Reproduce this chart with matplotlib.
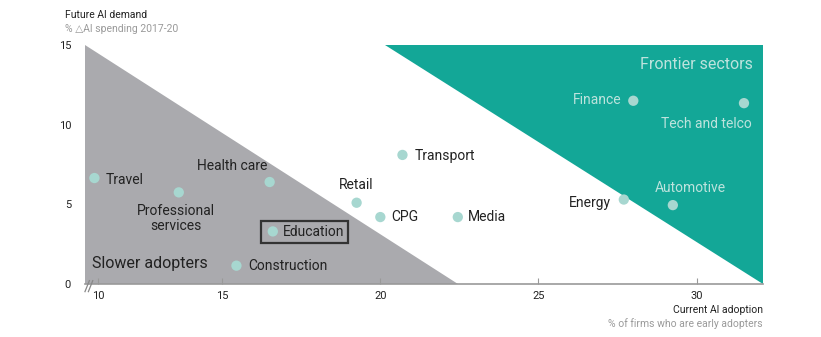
import numpy as np
import matplotlib.pyplot as plt
from matplotlib.patches import Polygon, Rectangle
from matplotlib.transforms import IdentityTransform

plt.rcParams['font.family'] = ['Roboto', 'DejaVu Sans']

# sector positions: current AI adoption (x) vs future AI demand (y)
sectors = ['Travel', 'Professional\nservices', 'Health care', 'Education', 'Construction',
           'Retail', 'CPG', 'Transport', 'Media', 'Finance', 'Tech and telco',
           'Energy', 'Automotive']
adoption = [9.85, 13.25, 16.5, 16.6, 15.45, 19.25, 20.0, 20.7, 22.45, 28.0, 31.5, 27.7, 29.25]
demand = [6.65, 5.75, 6.4, 3.3, 1.15, 5.1, 4.2, 8.1, 4.2, 11.5, 11.35, 5.3, 4.95]

xticks = [10, 15, 20, 25, 30]
yticks = [0, 5, 10, 15]

# region boundaries
slow_zone = [(9.47, 15), (9.47, 0), (22.45, 0)]
frontier_zone = [(20.15, 15), (32.1, 15), (32.1, 0)]

GREY = '#AAAAAE'
TEAL = '#13A797'
DOT = '#A7D7D0'
PALE = '#BDE3DD'
INK = '#222222'

# label placement (offset pixels, alignment, colour)
placement = {
    'Travel': ((11, -2), 'left', INK),
    'Professional\nservices': ((-3, -26), 'center', INK),
    'Health care': ((-37, 16), 'center', INK),
    'Education': ((10, -1), 'left', INK),
    'Construction': ((12, 0), 'left', INK),
    'Retail': ((0, 18), 'center', INK),
    'CPG': ((11, 0), 'left', INK),
    'Transport': ((12, -1), 'left', INK),
    'Media': ((10, 0), 'left', INK),
    'Finance': ((-12, 1), 'right', PALE),
    'Tech and telco': ((8, -21), 'right', PALE),
    'Energy': ((-13, -3), 'right', INK),
    'Automotive': ((17, 17), 'center', PALE),
}

# left part of the x axis is compressed (axis break before 10)
K = 124 / 158


def fwd(x):
    x = np.asarray(x, dtype=float)
    return np.where(x >= 15, x, 15 - (15 - x) * K)


def inv(t):
    t = np.asarray(t, dtype=float)
    return np.where(t >= 15, t, 15 - (15 - t) / K)


fig = plt.figure(figsize=(8.21, 3.37), dpi=100)
ax = fig.add_axes([0.1035, 0.1573, 0.8258, 0.7092])
ax.set_xscale('function', functions=(fwd, inv))
ax.set_xlim(9.47, 32.1)
ax.set_ylim(0, 15)

ax.add_patch(Polygon(slow_zone, closed=True, fc=GREY, ec='none', zorder=0))
ax.add_patch(Polygon(frontier_zone, closed=True, fc=TEAL, ec='none', zorder=0))

ax.scatter(adoption, demand, s=55, color=DOT, edgecolors='none', zorder=3)

labels = {}
for name, x, y in zip(sectors, adoption, demand):
    off, ha, col = placement[name]
    labels[name] = ax.annotate(name, (x, y), xytext=off, textcoords='offset pixels',
                               ha=ha, va='center', fontsize=10, color=col,
                               linespacing=1.15, zorder=4)

ax.text(0.011, 0.085, 'Slower adopters', transform=ax.transAxes, fontsize=11.5,
        color=INK, ha='left', va='center')
ax.text(0.985, 0.92, 'Frontier sectors', transform=ax.transAxes, fontsize=11.5,
        color=PALE, ha='right', va='center')

for s in ['top', 'right', 'left']:
    ax.spines[s].set_visible(False)
ax.spines['bottom'].set_color('#999999')
ax.spines['bottom'].set_linewidth(1.2)

ax.set_xticks(xticks)
ax.set_xticklabels([str(t) for t in xticks])
ax.set_yticks(yticks)
ax.set_yticklabels([str(t) for t in yticks])
ax.tick_params(axis='x', direction='in', length=4, color='#999999', labelsize=8,
               labelcolor=INK, pad=5)
ax.tick_params(axis='y', length=0, labelsize=8, labelcolor=INK, pad=10)

# axis break marks
for dx in (0.0, 0.005):
    ax.plot([dx, dx + 0.0065], [-0.032, 0.014], transform=ax.transAxes,
            color='#888888', lw=0.9, clip_on=False, zorder=5)

fig.text(65 / 821, 1 - 15 / 337, 'Future AI demand', fontsize=7.5, color=INK,
         ha='left', va='center')
fig.text(65 / 821, 1 - 29 / 337, '% \u25b3AI spending 2017-20', fontsize=7.5,
         color='#9A9A9A', ha='left', va='center', family=['Roboto', 'DejaVu Sans'])
fig.text(763 / 821, 1 - 310 / 337, 'Current AI adoption', fontsize=7.5, color=INK,
         ha='right', va='center')
fig.text(763 / 821, 1 - 324 / 337, '% of firms who are early adopters', fontsize=7.5,
         color='#9A9A9A', ha='right', va='center')

# outline around the Education marker and label
fig.canvas.draw()
bb = labels['Education'].get_window_extent()
i = sectors.index('Education')
px, py = ax.transData.transform((adoption[i], demand[i]))
ax.add_patch(Rectangle((px - 12, bb.y0 - 4), bb.x1 + 4 - (px - 12), bb.height + 8,
                       transform=IdentityTransform(), fill=False, ec='#333333',
                       lw=1.6, zorder=5))

fig.savefig('out.png', dpi=100)
